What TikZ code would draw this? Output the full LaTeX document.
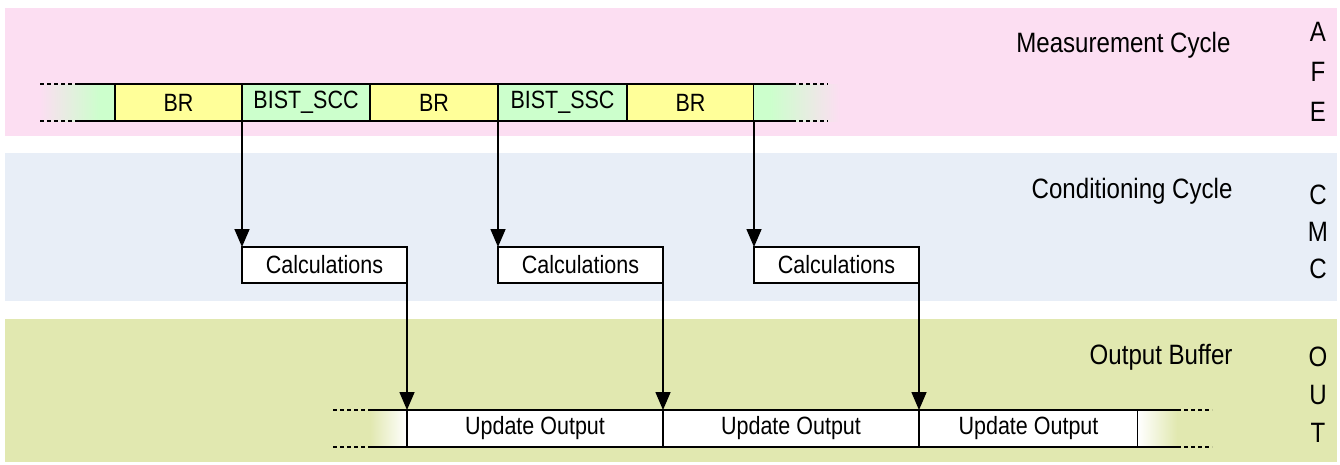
\documentclass[tikz,border=0pt]{standalone}
\usepackage{fontspec}
\setmainfont{Liberation Sans}[FakeStretch=0.86]
\usetikzlibrary{arrows.meta,positioning}

\definecolor{afeband}{HTML}{FCDEF2}
\definecolor{cmcband}{HTML}{E8EEF7}
\definecolor{outband}{HTML}{E1E8B0}
\definecolor{brfill}{HTML}{FFFF99}
\definecolor{bistfill}{HTML}{CCFFCC}

\newcommand{\slotfont}{\fontsize{25}{28}\selectfont}
\newcommand{\bandfont}{\fontsize{28}{30}\selectfont}

\begin{document}
\begin{tikzpicture}[x=1pt,y=-1pt,
    slot/.style={draw, line width=1.6pt, inner sep=0pt, outer sep=0pt, anchor=west, minimum height=37pt, font=\slotfont},
    calcbox/.style={slot, fill=white, minimum width=165pt, minimum height=36pt},
    barline/.style={line width=1.6pt},
    dotline/.style={line width=1.6pt, dash pattern=on 4pt off 3pt},
    flow/.style={line width=1.6pt, -{Triangle[length=18pt,width=15pt]}}]
    \useasboundingbox (0,0) rectangle (1340,464);
    % the three bands
    \fill[afeband] (5,8) rectangle (1337,136);
    \fill[cmcband] (5,153) rectangle (1337,301);
    \fill[outband] (5,319) rectangle (1337,462);
    \node[font=\bandfont, anchor=base east] (afetitle) at (1234,52) {Measurement Cycle};
    \node[font=\bandfont, anchor=base east] (cmctitle) at (1236,198) {Conditioning Cycle};
    \node[font=\bandfont, anchor=base east] (outtitle) at (1236,364) {Output Buffer};
    \foreach \ltr/\y in {A/32,F/72,E/112,C/195,M/232,C/269,O/357,U/395,T/433}
        \node[font=\bandfont] (tag-\y) at (1318,\y) {\ltr};

    % measurement cycle
    \shade[left color=afeband, right color=bistfill] (40,84) rectangle (100,121);
    \fill[bistfill] (100,84) rectangle (115,121);
    \node[slot, fill=brfill, minimum width=127pt] (br1) at (115,102.5) {BR};
    \node[slot, fill=bistfill, minimum width=128pt, right=0pt of br1] (scc) {BIST\_SCC};
    \node[slot, fill=brfill, minimum width=128pt, right=0pt of scc] (br2) {BR};
    \node[slot, fill=bistfill, minimum width=129pt, right=0pt of br2] (ssc) {BIST\_SSC};
    \node[slot, fill=brfill, minimum width=127pt, right=0pt of ssc] (br3) {BR};
    \fill[bistfill] (br3.north east) rectangle (770,121);
    \shade[left color=bistfill, right color=afeband] (770,84) rectangle (840,121);
    \draw[barline] (77,84) -- (br1.north west) (77,121) -- (br1.south west);
    \draw[dotline] (40,84) -- (77,84) (40,121) -- (77,121);
    \draw[barline] (br3.north east) -- (792,84) (br3.south east) -- (792,121);
    \draw[dotline] (792,84) -- (828,84) (792,121) -- (828,121);

    % conditioning cycle
    \node[calcbox] (calc1) at (242,265) {Calculations};
    \node[calcbox] (calc2) at (498,265) {Calculations};
    \node[calcbox] (calc3) at (754,265) {Calculations};

    % output buffer
    \shade[left color=outband, right color=white] (370,410) rectangle (407,447);
    \node[slot, fill=white, minimum width=256pt] (upd1) at (407,428.5) {Update Output};
    \node[slot, fill=white, minimum width=256pt, right=0pt of upd1] (upd2) {Update Output};
    \node[slot, fill=white, minimum width=219pt, right=0pt of upd2] (upd3) {Update Output};
    \shade[left color=white, right color=outband] (upd3.north east) rectangle (1177,447);
    \draw[barline] (370,410) -- (upd1.north west) (370,447) -- (upd1.south west);
    \draw[dotline] (333,410) -- (370,410) (333,447) -- (370,447);
    \draw[barline] (upd3.north east) -- (1177,410) (upd3.south east) -- (1177,447);
    \draw[dotline] (1177,410) -- (1212,410) (1177,447) -- (1212,447);

    % data flow
    \draw[flow] (scc.south west) -- (calc1.north west);
    \draw[flow] (ssc.south west) -- (calc2.north west);
    \draw[flow] (br3.south east) -- (calc3.north west);
    \draw[flow] (calc1.south east) -- (upd1.north west);
    \draw[flow] (calc2.south east) -- (upd2.north west);
    \draw[flow] (calc3.south east) -- (upd3.north west);
\end{tikzpicture}
\end{document}
